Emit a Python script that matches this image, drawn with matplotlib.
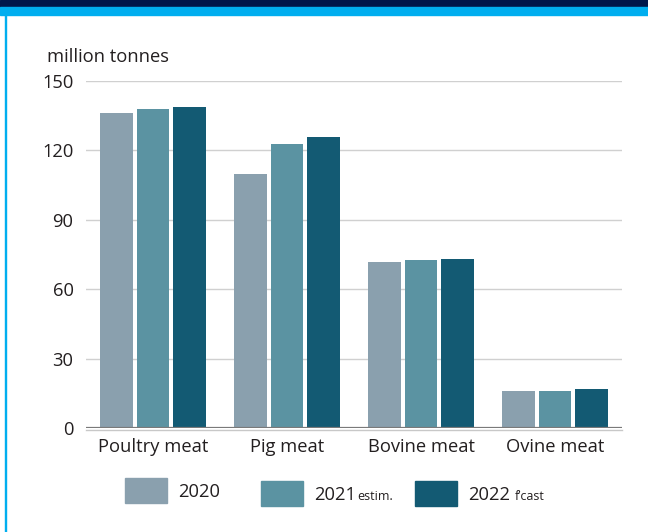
import matplotlib
matplotlib.use('Agg')
import matplotlib.pyplot as plt
import numpy as np
from matplotlib.patches import Rectangle

# data
categories = ['Poultry meat', 'Pig meat', 'Bovine meat', 'Ovine meat']
v2020 = [136.2, 109.8, 71.8, 16.0]
v2021 = [138.0, 122.8, 72.6, 16.0]
v2022 = [138.8, 125.8, 73.0, 16.9]
series_names = ['2020', '2021', '2022']
series_suffix = ['', 'estim.', "f\u2019cast"]
colors = ['#8aa0ae', '#5b93a2', '#135a73']
yticks = [0, 30, 60, 90, 120, 150]

plt.rcParams['font.family'] = ['Open Sans', 'DejaVu Sans']
txt_color = '#231f20'
fs = 13.2

fig = plt.figure(figsize=(6.48, 5.32), dpi=100)
W, H = 648, 532

# header bands and left border
fig.patches.append(Rectangle((0, 1 - 7 / H), 1, 7 / H, transform=fig.transFigure, color='#00174a', zorder=0))
fig.patches.append(Rectangle((0, 1 - 15 / H), 1, 8 / H, transform=fig.transFigure, color='#00aeef', zorder=0))
fig.patches.append(Rectangle((5 / W, 0), 1.2 / W, 1 - 15 / H, transform=fig.transFigure, color='#00aeef', zorder=0))

ax = fig.add_axes([86 / W, 1 - 428 / H, 536 / W, 347 / H])
x = np.arange(len(categories))
w = 0.246
step = 0.269
for i, vals in enumerate([v2020, v2021, v2022]):
    ax.bar(x + (i - 1) * step, vals, width=w, color=colors[i], zorder=3)

ax.set_xlim(-0.5, len(categories) - 0.5)
ax.set_ylim(0, 150)
ax.set_yticks(yticks)
ax.set_yticklabels([str(t) for t in yticks], fontsize=fs, color=txt_color)
ax.set_xticks(x)
ax.set_xticklabels(categories, fontsize=fs, color=txt_color)
ax.tick_params(axis='y', length=0, pad=9)
ax.tick_params(axis='x', length=0, pad=7)
ax.grid(axis='y', color='#d0d0d0', linewidth=1, zorder=0)
for s in ax.spines.values():
    s.set_visible(False)
ax.axhline(0, color='#7a7a7a', linewidth=1.6, zorder=4)
ax.axhline(-0.9, color='#c8c8c8', linewidth=1, zorder=4, clip_on=False)

fig.text(47 / W, 1 - 57 / H, 'million tonnes', fontsize=fs, color=txt_color, va='center', ha='left')

# legend
leg_x = [125, 261, 415]
leg_y = [478, 481, 481]
for i in range(3):
    fig.patches.append(Rectangle((leg_x[i] / W, 1 - (leg_y[i] + 25) / H), 42 / W, 25 / H,
                                 transform=fig.transFigure, color=colors[i]))
    base = 1 - (leg_y[i] + 19) / H
    t = fig.text((leg_x[i] + 53) / W, base, series_names[i],
                 fontsize=fs, color=txt_color, va='baseline', ha='left')
    if series_suffix[i]:
        fig.canvas.draw()
        bb = t.get_window_extent()
        gap = 1 if i == 1 else 5
        fig.text((bb.x1 + gap) / W, base, series_suffix[i],
                 fontsize=9, color=txt_color, va='baseline', ha='left')

fig.savefig('out.png', dpi=100)
